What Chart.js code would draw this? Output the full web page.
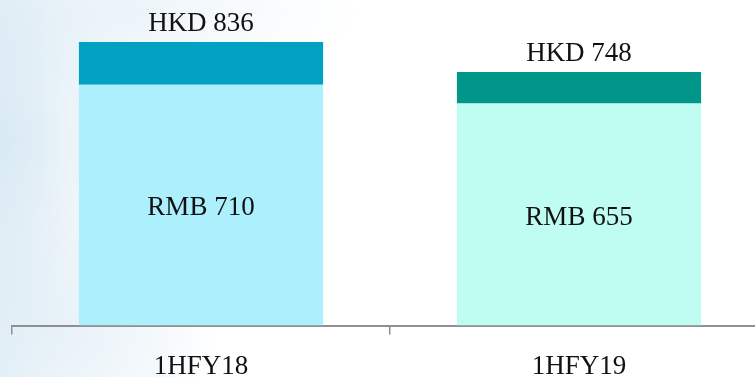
<!DOCTYPE html>
<html>
<head>
<meta charset="utf-8">
<script src="https://cdn.jsdelivr.net/npm/chart.js@4"></script>
<style>
  html, body { margin: 0; padding: 0; }
  body {
    width: 755px; height: 377px; overflow: hidden;
    background:
      radial-gradient(ellipse 120px 200px at 10px 140px, rgba(200, 224, 238, 0.45), rgba(255, 255, 255, 0) 100%),
      radial-gradient(ellipse 240px 90px at 120px 10px, rgba(214, 232, 243, 0.4), rgba(255, 255, 255, 0) 100%),
      radial-gradient(ellipse 160px 120px at 60px 330px, rgba(214, 232, 243, 0.45), rgba(255, 255, 255, 0) 100%),
      linear-gradient(to right, rgba(214, 232, 243, 0.6) 0px, rgba(228, 239, 247, 0.35) 70px, rgba(255, 255, 255, 0) 220px),
      #ffffff;
  }
  #wrap { width: 755px; height: 377px; overflow: hidden; position: relative; }
  canvas#salesChart { position: absolute; left: 0; top: 0; }
</style>
</head>
<body>
<div id="wrap">
  <canvas id="salesChart" width="770" height="399"></canvas>
</div>
<script>
const categories = ['1HFY18', '1HFY19'];
const rmbValues = [710, 655];
const hkdValues = [836, 748];
const yMax = 960;

const lightColors = ['#adf0fd', '#bffcf1'];
const darkColors = ['#00a1c1', '#00968a'];
const labelFont = '27px "Liberation Serif", "Times New Roman", serif';

// top segment = HKD amount minus the RMB part underneath
const hkdExtra = hkdValues.map((v, i) => v - rmbValues[i]);

const valueLabels = {
  id: 'valueLabels',
  afterDatasetsDraw(chart) {
    const ctx = chart.ctx;
    const base = chart.getDatasetMeta(0);
    const top = chart.getDatasetMeta(1);
    ctx.save();
    ctx.font = labelFont;
    ctx.fillStyle = '#111111';
    ctx.textAlign = 'center';
    ctx.textBaseline = 'alphabetic';
    base.data.forEach((bar, i) => {
      const mid = (bar.y + bar.base) / 2;
      ctx.fillText('RMB ' + rmbValues[i], bar.x, mid + 10);
      const t = top.data[i];
      ctx.fillText('HKD ' + hkdValues[i], t.x, t.y - 11);
    });
    ctx.restore();
  }
};

new Chart(document.querySelector('#salesChart'), {
  type: 'bar',
  data: {
    labels: categories,
    datasets: [
      {
        label: 'RMB',
        data: rmbValues,
        backgroundColor: lightColors,
        borderWidth: 0
      },
      {
        label: 'HKD',
        data: hkdExtra,
        backgroundColor: darkColors,
        borderWidth: 0
      }
    ]
  },
  options: {
    responsive: false,
    animation: false,
    layout: { padding: { left: 12, right: 2, top: 0, bottom: 0 } },
    datasets: {
      bar: { categoryPercentage: 1, barPercentage: 0.646 }
    },
    plugins: {
      legend: { display: false },
      tooltip: { enabled: false }
    },
    scales: {
      x: {
        stacked: true,
        grid: {
          drawOnChartArea: false,
          drawTicks: true,
          tickLength: 9,
          color: '#8f8f8f',
          lineWidth: 1.5
        },
        border: { display: true, color: '#8f8f8f', width: 2 },
        ticks: {
          color: '#111111',
          padding: 16,
          font: { family: '"Liberation Serif", "Times New Roman", serif', size: 27 }
        }
      },
      y: {
        stacked: true,
        display: false,
        min: 0,
        max: yMax
      }
    }
  },
  plugins: [valueLabels]
});
</script>
</body>
</html>
